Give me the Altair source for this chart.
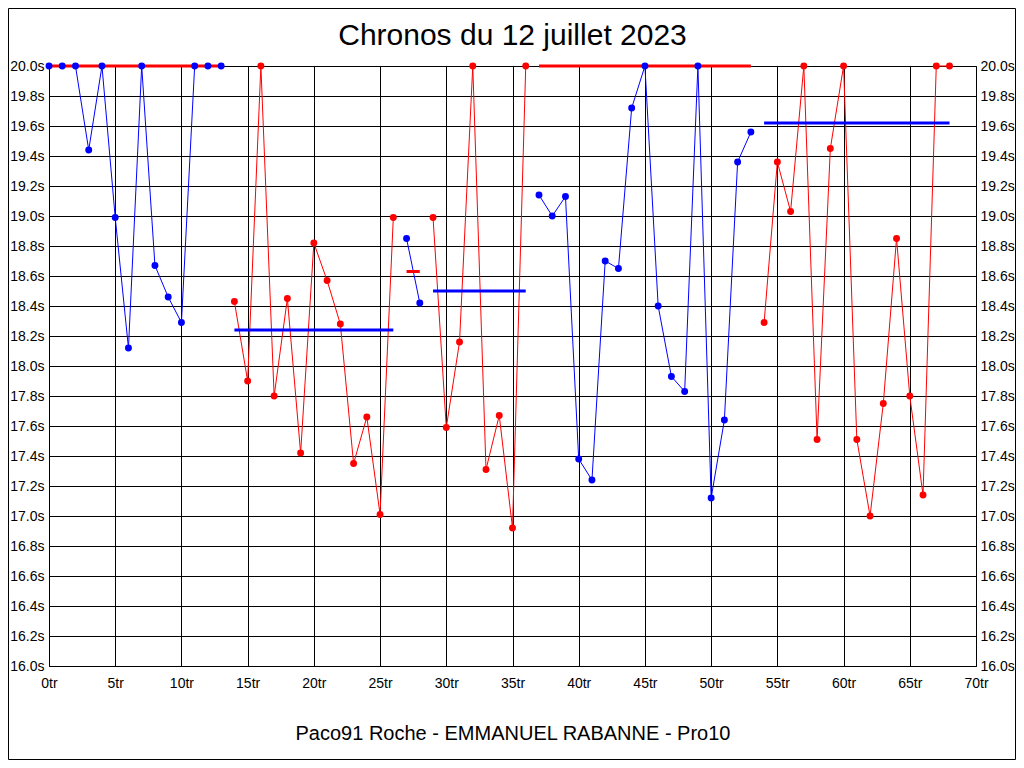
import altair as alt
import pandas as pd

# Lap times (s) per lap index
laps = list(range(69))
times = [
    20.0, 20.0, 20.0, 19.44, 20.0, 18.99, 18.12, 20.0, 18.67, 18.46, 18.29, 20.0, 20.0, 20.0,
    18.43, 17.90, 20.0, 17.80, 18.45, 17.42, 18.82, 18.57, 18.28, 17.35, 17.66, 17.01, 18.99,
    18.85, 18.42,
    18.99, 17.59, 18.16, 20.0, 17.31, 17.67, 16.92, 20.0,
    19.14, 19.00, 19.13, 17.38, 17.24, 18.70, 18.65, 19.72, 20.0, 18.40, 17.93, 17.83, 20.0,
    17.12, 17.64, 19.36, 19.56,
    18.29, 19.36, 19.03, 20.0, 17.51, 19.45, 20.0, 17.51, 17.00, 17.75, 18.85, 17.80, 17.14,
    20.0, 20.0,
]

seg_starts = [0, 14, 27, 29, 37, 54]
seg_ends = [13, 26, 28, 36, 53, 68]
seg_colors = ["#0000FF", "#FF0000", "#0000FF", "#FF0000", "#0000FF", "#FF0000"]
avg_values = [20.0, 18.24, 18.63, 18.50, 20.0, 19.62]
avg_colors = ["#FF0000", "#0000FF", "#FF0000", "#0000FF", "#FF0000", "#0000FF"]

x_ticks = list(range(0, 71, 5))
y_ticks = [round(16.0 + 0.2 * i, 1) for i in range(21)]

title_text = "Chronos du 12 juillet 2023"
footer_text = "Paco91 Roche - EMMANUEL RABANNE - Pro10"

rows = []
for s, (a, b) in enumerate(zip(seg_starts, seg_ends)):
    for lap in range(a, b + 1):
        rows.append({"lap": laps[lap], "time": times[lap], "seg": s, "color": seg_colors[s]})
df = pd.DataFrame(rows)

avg_df = pd.DataFrame({
    "start": seg_starts, "end": seg_ends, "value": avg_values, "color": avg_colors,
})

FONT = "Liberation Sans"
xscale = alt.Scale(domain=[0, 70], nice=False, zero=False)
yscale = alt.Scale(domain=[16, 20], nice=False, zero=False)

xaxis = alt.Axis(
    values=x_ticks, labelExpr="datum.value + 'tr'", grid=True, gridColor="black",
    gridOpacity=1, gridWidth=1, ticks=False, domain=False, labelFontSize=14,
    labelFont=FONT, labelColor="black", labelPadding=10, title=footer_text,
    titleFont=FONT, titleFontSize=20, titleFontWeight="normal", titleColor="black",
    titlePadding=33, labelFlush=False, labelOverlap=False,
)
yaxis_left = alt.Axis(
    values=y_ticks, labelExpr="format(datum.value, '.1f') + 's'", grid=True,
    gridColor="black", gridOpacity=1, gridWidth=1, ticks=False, domain=False,
    labelFontSize=14, labelFont=FONT, labelColor="black", labelPadding=5, title=None,
    labelFlush=False, labelOverlap=False,
)
yaxis_right = alt.Axis(
    values=y_ticks, labelExpr="format(datum.value, '.1f') + 's'", grid=False,
    ticks=False, domain=False, orient="right", labelFontSize=14, labelFont=FONT,
    labelColor="black", labelPadding=4, title=None, labelFlush=False, labelOverlap=False,
)

base = alt.Chart(df)

lines = base.mark_line(strokeWidth=1).encode(
    x=alt.X("lap:Q", scale=xscale, axis=xaxis),
    y=alt.Y("time:Q", scale=yscale, axis=yaxis_left),
    color=alt.Color("color:N", scale=None),
    detail="seg:N",
)

avgs = alt.Chart(avg_df).mark_rule(strokeWidth=3).encode(
    x=alt.X("start:Q", scale=xscale, axis=xaxis),
    x2="end:Q",
    y=alt.Y("value:Q", scale=yscale, axis=yaxis_left),
    color=alt.Color("color:N", scale=None),
)

points = base.mark_circle(size=48, opacity=1).encode(
    x=alt.X("lap:Q", scale=xscale, axis=xaxis),
    y=alt.Y("time:Q", scale=yscale, axis=yaxis_left),
    color=alt.Color("color:N", scale=None),
)

left = alt.layer(lines, avgs, points)

right = base.mark_point(opacity=0).encode(
    x=alt.X("lap:Q", scale=xscale, axis=xaxis),
    y=alt.Y("time:Q", scale=yscale, axis=yaxis_right),
)

frame = alt.Chart(pd.DataFrame({"f": [0]})).mark_rect(
    fill=None, stroke="black", strokeWidth=1
).encode(
    x=alt.value(-40.5), x2=alt.value(966.5), y=alt.value(-57.5), y2=alt.value(693.5)
)

title = alt.Chart(pd.DataFrame({"t": [title_text]})).mark_text(
    font=FONT, fontSize=30, color="black", align="center", baseline="alphabetic"
).encode(
    text="t:N", x=alt.value(463.5), y=alt.value(-21)
)

chart = alt.layer(left, right, frame, title).resolve_scale(y="independent").properties(
    width=927,
    height=600,
    autosize=alt.AutoSizeParams(type="none"),
    padding={"left": 41, "top": 58, "right": 40, "bottom": 94},
    background="white",
).configure_view(stroke="black", strokeWidth=1)

chart.save("out.html", embed_options={"renderer": "svg", "actions": False})
